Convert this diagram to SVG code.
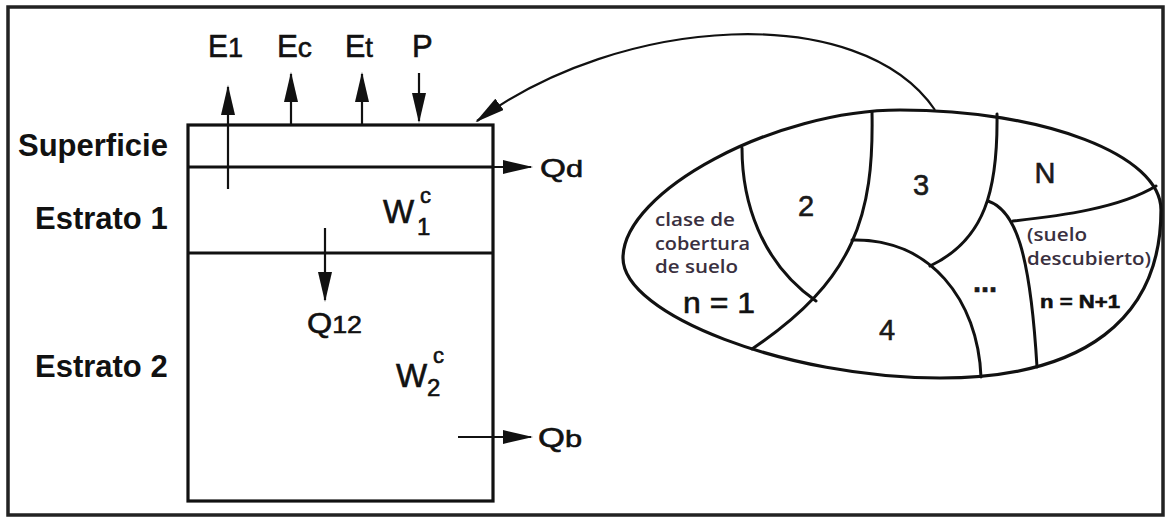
<svg xmlns="http://www.w3.org/2000/svg" width="1167" height="519" viewBox="0 0 1167 519">
<style>
.ln{fill:none;stroke:#111;stroke-width:3.2}
.div{fill:none;stroke:#111;stroke-width:3;stroke-linecap:round}
.arr{fill:none;stroke:#111;stroke-width:2.2;marker-end:url(#ah)}
.lab{font-family:"Liberation Sans",Arial,sans-serif;font-weight:bold;font-size:31px;fill:#111}
.sym{font-family:"Liberation Sans",Arial,sans-serif;fill:#111;stroke:#111;stroke-width:0.6}
.num{font-family:"Liberation Sans",Arial,sans-serif;font-size:29px;fill:#1a1a1a;stroke:#1a1a1a;stroke-width:0.6;text-anchor:middle}
.note{font-family:"Open Sans","Liberation Sans",sans-serif;font-weight:600;font-size:18px;fill:#3a3040}
</style>
<defs>
<marker id="ah" markerUnits="userSpaceOnUse" markerWidth="30" markerHeight="14" viewBox="0 0 30 14" refX="28" refY="7" orient="auto">
<path d="M0,0 L30,7 L0,14 z" fill="#111"/>
</marker>
</defs>
<rect x="0" y="0" width="1167" height="519" fill="#fff"/>
<rect x="8" y="7" width="1155" height="508" fill="none" stroke="#222" stroke-width="3.5"/>

<g id="labels-left">
<text class="lab" x="18" y="156">Superficie</text>
<text class="lab" x="35" y="229">Estrato 1</text>
<text class="lab" x="35" y="377">Estrato 2</text>
</g>

<g id="soil-column">
<rect class="ln" x="188" y="125" width="305" height="376"/>
<line class="ln" x1="188" y1="167" x2="493" y2="167"/>
<line class="ln" x1="188" y1="253" x2="493" y2="253"/>
<text class="sym" x="383" y="223" font-size="33">W<tspan font-size="24" x="417" y="235">1</tspan><tspan font-size="22" x="420" y="203">c</tspan></text>
<text class="sym" x="396" y="387" font-size="33">W<tspan font-size="24" x="427" y="396">2</tspan><tspan font-size="22" x="433" y="363">c</tspan></text>
</g>

<g id="flux-labels">
<text class="sym" x="208" y="57" font-size="31" textLength="35" lengthAdjust="spacingAndGlyphs">E<tspan font-size="28">1</tspan></text>
<text class="sym" x="277" y="57" font-size="31" textLength="35" lengthAdjust="spacingAndGlyphs">E<tspan font-size="28">c</tspan></text>
<text class="sym" x="345" y="57" font-size="31" textLength="28" lengthAdjust="spacingAndGlyphs">E<tspan font-size="28">t</tspan></text>
<text class="sym" x="412" y="57" font-size="31">P</text>
<text class="sym" x="540" y="177" font-size="26" textLength="43" lengthAdjust="spacingAndGlyphs">Q<tspan font-size="24">d</tspan></text>
<text class="sym" x="307" y="333" font-size="29" textLength="55" lengthAdjust="spacingAndGlyphs">Q<tspan font-size="24">12</tspan></text>
<text class="sym" x="538" y="447" font-size="27" textLength="44" lengthAdjust="spacingAndGlyphs">Q<tspan font-size="24">b</tspan></text>
</g>

<g id="connectors">
<line class="arr" x1="228" y1="189" x2="228" y2="87"/>
<line class="arr" x1="291" y1="125" x2="291" y2="74"/>
<line class="arr" x1="362" y1="125" x2="362" y2="74"/>
<line class="arr" x1="419" y1="73" x2="419" y2="121"/>
<line class="arr" x1="493" y1="167" x2="531" y2="167"/>
<line class="arr" x1="325" y1="228" x2="325" y2="300"/>
<line class="arr" x1="458" y1="437" x2="531" y2="437"/>
<path class="arr" d="M935,110 C860,0 620,15 477,121"/>
</g>

<g id="land-cover-map">
<path class="ln" d="M623,258 C623,191 775,110 900,110 C1044,110 1161,155 1161,210 C1161,319 1084,378 940,378 C788,378 623,315 623,258 Z" stroke-width="3.5"/>
<path class="div" d="M742,148 C742,200 760,262 816,301"/>
<path class="div" d="M872,112 C874,215 855,280 752,349"/>
<path class="div" d="M852,240 C930,238 978,300 981,377"/>
<path class="div" d="M997,114 C998,190 985,240 930,266"/>
<path class="div" d="M988,201 C1015,210 1030,250 1037,367"/>
<path class="div" d="M1013,221 C1060,216 1120,208 1156,186"/>
<text class="num" x="806" y="216">2</text>
<text class="num" x="921" y="195">3</text>
<text class="num" x="1045" y="183">N</text>
<text class="num" x="887" y="340">4</text>
<text class="num" x="985" y="292" font-weight="bold">...</text>
<text class="sym" x="683" y="313" font-size="30" textLength="72" lengthAdjust="spacingAndGlyphs">n = 1</text>
<text class="note" x="655" y="226" textLength="80" lengthAdjust="spacingAndGlyphs">clase de</text>
<text class="note" x="655" y="250" textLength="95" lengthAdjust="spacingAndGlyphs">cobertura</text>
<text class="note" x="655" y="273" textLength="83" lengthAdjust="spacingAndGlyphs">de suelo</text>
<text class="note" x="1027" y="241" textLength="60" lengthAdjust="spacingAndGlyphs">(suelo</text>
<text class="note" x="1027" y="265" textLength="124" lengthAdjust="spacingAndGlyphs">descubierto)</text>
<text class="sym" x="1040" y="308" font-size="19" font-weight="bold" fill="#333" stroke="none" textLength="80" lengthAdjust="spacingAndGlyphs">n = N+1</text>
</g>
</svg>
